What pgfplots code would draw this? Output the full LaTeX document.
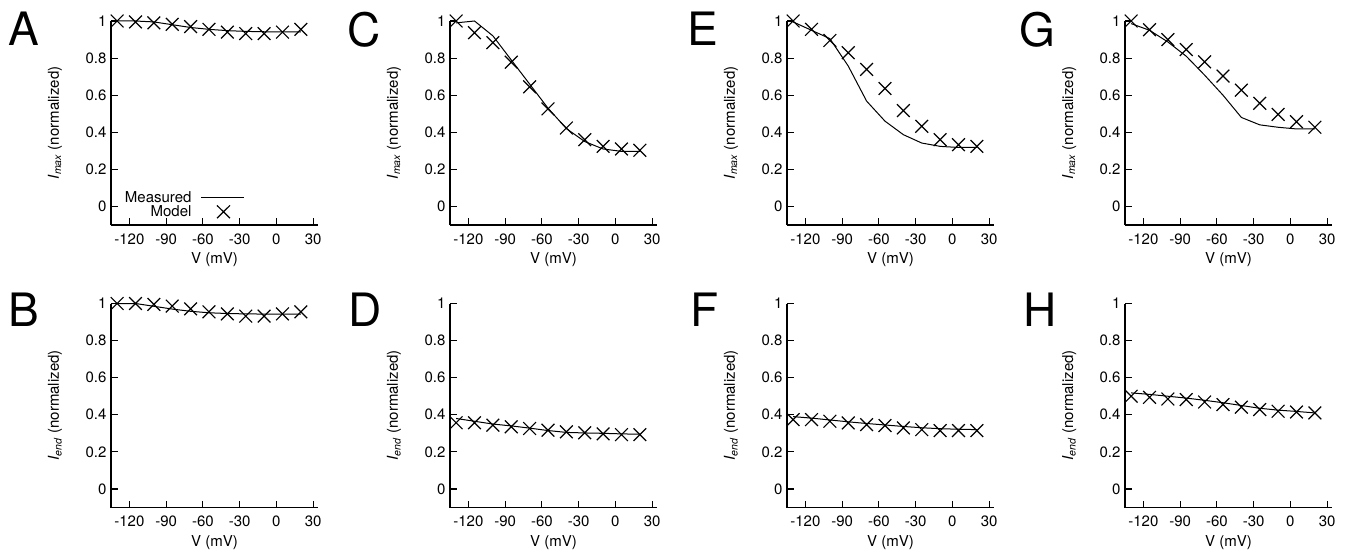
\documentclass[border=0pt]{standalone}
\usepackage{fontspec}
\setmainfont{TeX Gyre Heros}
\usepackage{pgfplots}
\pgfplotsset{compat=1.18}
\newcommand{\tf}{\fontsize{15}{17}\selectfont}
\newcommand{\lf}{\fontsize{46}{46}\selectfont}
\pgfplotsset{
 panel/.style={
  scale only axis, width=207pt, height=204pt,
  xmin=-135, xmax=34, ymin=-0.1, ymax=1,
  axis x line=bottom, axis y line=left,
  axis line style={-, line width=1.1pt},
  xtick={-120,-90,-60,-30,0,30}, ytick={0,0.2,0.4,0.6,0.8,1},
  tick align=inside, major tick length=7pt,
  tick style={line width=1.1pt, black},
  tick label style={font=\tf},
  /pgf/number format/assume math mode=true,
  xticklabel shift=5pt, yticklabel shift=1pt,
  label style={font=\tf},
  xlabel={V (mV)},
  xlabel style={at={(axis description cs:0.5,-0.17)}, anchor=center},
  ylabel style={at={(axis description cs:-0.27,0.5)}, anchor=center},
  clip=false,
  anchor=south west,
 },
 meas/.style={black, line width=1pt, no marks},
 model/.style={black, only marks, mark=x, mark size=9pt, mark options={line width=1.2pt}},
}
\newcommand{\imax}{\textit{I}\textsubscript{\textit{max}} (normalized)}
\newcommand{\iend}{\textit{I}\textsubscript{\textit{end}} (normalized)}
\begin{document}
\begin{tikzpicture}
\path[use as bounding box] (0pt,0pt) rectangle (1346pt,558pt);
% A
\begin{axis}[panel, at={(111pt,333pt)}, ylabel={\imax},
  legend style={draw=none, fill=none, font=\tf, at={(axis cs:-23,-0.085)}, anchor=south east, row sep=-2pt},
  legend cell align=right, legend plot pos=right]
\addplot[meas, legend image code/.code={\path[draw=none] (0pt,0pt) -- (51pt,0pt); \draw[line width=1pt] (8pt,0pt) -- (51pt,0pt);}] coordinates {(-130,1.0) (-115,1.0) (-100,0.995) (-85,0.98) (-70,0.965) (-55,0.955) (-40,0.948) (-25,0.944) (-10,0.942) (5,0.942) (20,0.942)};
\addlegendentry{Measured}
\addplot[model, legend image code/.code={\path[draw=none] (0pt,0pt) -- (51pt,0pt); \draw[line width=1.2pt, solid] (23.5pt,-6.4pt) -- (36.5pt,6.4pt) (23.5pt,6.4pt) -- (36.5pt,-6.4pt);}] coordinates {(-130,1.0) (-115,0.995) (-100,0.99) (-85,0.982) (-70,0.97) (-55,0.955) (-40,0.94) (-25,0.932) (-10,0.932) (5,0.94) (20,0.955)};
\addlegendentry{Model}
\end{axis}
% C
\begin{axis}[panel, at={(450pt,333pt)}, ylabel={\imax}]
\addplot[meas] coordinates {(-130,0.99) (-115,1.0) (-100,0.92) (-85,0.79) (-70,0.66) (-55,0.53) (-40,0.42) (-25,0.35) (-10,0.31) (5,0.297) (20,0.297)};
\addplot[model] coordinates {(-130,1.0) (-115,0.937) (-100,0.883) (-85,0.778) (-70,0.645) (-55,0.526) (-40,0.423) (-25,0.36) (-10,0.324) (5,0.31) (20,0.303)};
\end{axis}
% E
\begin{axis}[panel, at={(787pt,333pt)}, ylabel={\imax}]
\addplot[meas] coordinates {(-130,0.995) (-115,0.95) (-100,0.905) (-85,0.757) (-70,0.568) (-55,0.46) (-40,0.387) (-25,0.342) (-10,0.324) (5,0.318) (20,0.318)};
\addplot[model] coordinates {(-130,1.0) (-115,0.955) (-100,0.895) (-85,0.829) (-70,0.739) (-55,0.636) (-40,0.517) (-25,0.432) (-10,0.36) (5,0.333) (20,0.324)};
\end{axis}
% G
\begin{axis}[panel, at={(1125pt,333pt)}, ylabel={\imax}]
\addplot[meas] coordinates {(-130,0.986) (-115,0.95) (-100,0.887) (-85,0.81) (-70,0.708) (-55,0.6) (-40,0.48) (-25,0.44) (-10,0.427) (5,0.418) (20,0.418)};
\addplot[model] coordinates {(-130,1.0) (-115,0.953) (-100,0.9) (-85,0.846) (-70,0.78) (-55,0.703) (-40,0.627) (-25,0.556) (-10,0.496) (5,0.457) (20,0.427)};
\end{axis}
% B
\begin{axis}[panel, at={(111pt,50.5pt)}, ylabel={\iend}]
\addplot[meas] coordinates {(-130,1.0) (-115,1.0) (-100,0.985) (-85,0.97) (-70,0.958) (-55,0.95) (-40,0.946) (-25,0.944) (-10,0.943) (5,0.943) (20,0.943)};
\addplot[model] coordinates {(-130,1.0) (-115,1.0) (-100,0.995) (-85,0.986) (-70,0.971) (-55,0.955) (-40,0.944) (-25,0.932) (-10,0.932) (5,0.944) (20,0.955)};
\end{axis}
% D
\begin{axis}[panel, at={(450pt,50.5pt)}, ylabel={\iend}]
\addplot[meas] coordinates {(-130,0.38) (-115,0.365) (-100,0.35) (-85,0.34) (-70,0.328) (-55,0.315) (-40,0.305) (-25,0.302) (-10,0.3) (5,0.297) (20,0.295)};
\addplot[model] coordinates {(-130,0.357) (-115,0.357) (-100,0.344) (-85,0.335) (-70,0.326) (-55,0.317) (-40,0.308) (-25,0.303) (-10,0.297) (5,0.293) (20,0.293)};
\end{axis}
% F
\begin{axis}[panel, at={(787pt,50.5pt)}, ylabel={\iend}]
\addplot[meas] coordinates {(-130,0.39) (-115,0.382) (-100,0.372) (-85,0.362) (-70,0.353) (-55,0.345) (-40,0.337) (-25,0.33) (-10,0.325) (5,0.322) (20,0.32)};
\addplot[model] coordinates {(-130,0.374) (-115,0.374) (-100,0.365) (-85,0.356) (-70,0.347) (-55,0.342) (-40,0.329) (-25,0.32) (-10,0.315) (5,0.315) (20,0.315)};
\end{axis}
% H
\begin{axis}[panel, at={(1125pt,50.5pt)}, ylabel={\iend}]
\addplot[meas] coordinates {(-130,0.518) (-115,0.51) (-100,0.5) (-85,0.49) (-70,0.478) (-55,0.465) (-40,0.45) (-25,0.435) (-10,0.425) (5,0.418) (20,0.41)};
\addplot[model] coordinates {(-130,0.5) (-115,0.494) (-100,0.485) (-85,0.482) (-70,0.469) (-55,0.455) (-40,0.441) (-25,0.428) (-10,0.419) (5,0.415) (20,0.41)};
\end{axis}
% panel letters
\node[anchor=north west, inner sep=0pt, font=\lf] at (8pt,546pt) {A};
\node[anchor=north west, inner sep=0pt, font=\lf] at (347pt,546pt) {C};
\node[anchor=north west, inner sep=0pt, font=\lf] at (687pt,546pt) {E};
\node[anchor=north west, inner sep=0pt, font=\lf] at (1019pt,546pt) {G};
\node[anchor=north west, inner sep=0pt, font=\lf] at (8pt,265pt) {B};
\node[anchor=north west, inner sep=0pt, font=\lf] at (348pt,265pt) {D};
\node[anchor=north west, inner sep=0pt, font=\lf] at (690pt,265pt) {F};
\node[anchor=north west, inner sep=0pt, font=\lf] at (1023pt,265pt) {H};
\end{tikzpicture}
\end{document}
